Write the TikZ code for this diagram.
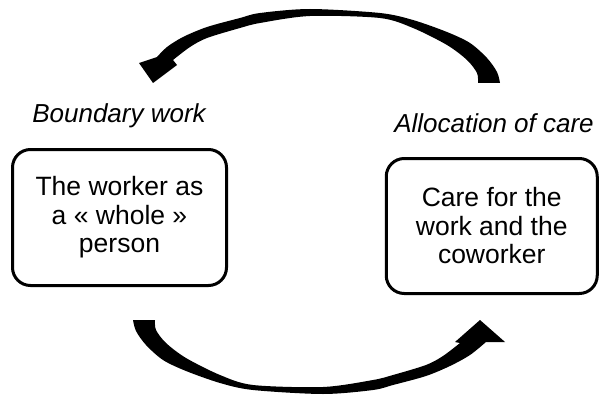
\documentclass[tikz,border=0pt]{standalone}
\usepackage{fontspec}
\setmainfont{Liberation Sans}
\begin{document}
\begin{tikzpicture}[x=1pt,y=-1pt,
  box/.style={draw, line width=3pt, rounded corners=18pt, align=center,
    font=\fontsize{26.5}{28.5}\selectfont, inner sep=0pt},
  lbl/.style={font=\fontsize{26}{28}\selectfont\itshape, inner sep=0pt},
  bigarrow/.style={fill=black}]
\useasboundingbox (0,0) rectangle (600,396);
% boxes
\node[box, minimum width=214pt, minimum height=136pt] (worker) at (119.5,217.5)
  {The worker as\\a « whole »\\person};
\node[box, minimum width=211pt, minimum height=135pt] (care) at (491.75,226)
  {Care for the\\work and the\\coworker};
% labels
\node[lbl] (bw) at (119,116) {Boundary work};
\node[lbl] (ac) at (494,123) {Allocation of care};
% top curved arrow (from right to left)
\fill[bigarrow] (478,83) -- (500,83)
  -- plot[smooth] coordinates {(500,83) (497,72) (487,58) (470,43) (447,32) (413,20) (380,13) (310,9) (260,13) (240,18) (207,27) (183,37) (167,47) (157,57)}
  -- (139,63) -- (153,83) -- (177,65) -- (173,60)
  -- plot[smooth] coordinates {(173,60) (190,47) (207,38) (240,28) (260,23) (310,16) (380,18) (413,28) (447,45) (467,60) (477,73) (478,83)}
  -- cycle;
% bottom curved arrow (from left to right)
\fill[bigarrow] (155,320) -- (133,320)
  -- plot[smooth] coordinates {(133,320) (136,331) (146,345) (163,360) (186,371) (220,383) (253,390) (323,394) (373,390) (393,385) (426,376) (450,366) (470,355) (486,342)}
  -- (505,342) -- (480,320) -- (455,342) -- (460,343)
  -- plot[smooth] coordinates {(460,343) (443,356) (426,365) (393,375) (373,380) (323,387) (253,385) (220,375) (186,358) (166,343) (156,330) (155,320)}
  -- cycle;
\end{tikzpicture}
\end{document}
